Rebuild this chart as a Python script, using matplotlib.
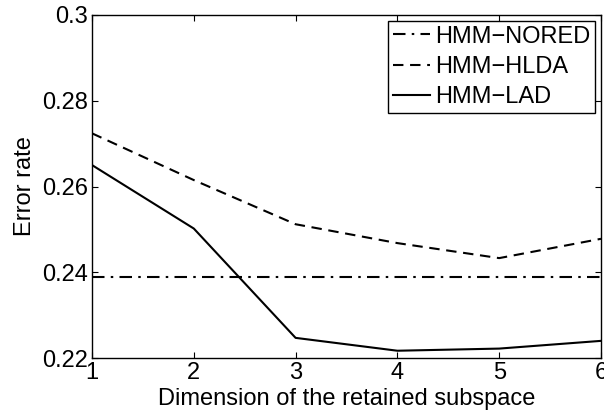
import matplotlib
matplotlib.use("Agg")
import matplotlib.pyplot as plt

plt.rcParams['font.family'] = ['Liberation Sans', 'DejaVu Sans']

dims = [1, 2, 3, 4, 5, 6]
hmm_nored = [0.2390, 0.2390, 0.2390, 0.2390, 0.2390, 0.2390]
hmm_hlda = [0.2724, 0.2615, 0.2512, 0.2468, 0.2433, 0.2478]
hmm_lad = [0.2650, 0.2502, 0.2247, 0.2217, 0.2222, 0.2240]
yticks = [0.22, 0.24, 0.26, 0.28, 0.30]
ytick_labels = ['0.22', '0.24', '0.26', '0.28', '0.3']
xticks = [1, 2, 3, 4, 5, 6]

fig = plt.figure(figsize=(6.04, 4.15), dpi=100)
ax = fig.add_axes([0.1523, 0.1373, 0.8427, 0.8266])

lw = 1.5
ax.plot(dims, hmm_nored, color='black', lw=lw, dashes=(6, 3, 1.2, 3), label='HMM\u2212NORED')
ax.plot(dims, hmm_hlda, color='black', lw=lw, dashes=(5, 3.2), label='HMM\u2212HLDA')
ax.plot(dims, hmm_lad, color='black', lw=lw, label='HMM\u2212LAD')

ax.set_xlim(1, 6)
ax.set_ylim(0.22, 0.30)
ax.set_xticks(xticks)
ax.set_xticklabels([str(x) for x in xticks])
ax.set_yticks(yticks)
ax.set_yticklabels(ytick_labels)
ax.tick_params(direction='in', length=4, width=0.8, top=True, right=True,
               labelsize=17, pad=3, colors='black')
for s in ax.spines.values():
    s.set_linewidth(1.0)

ax.set_xlabel('Dimension of the retained subspace', fontsize=17, labelpad=3)
ax.set_ylabel('Error rate', fontsize=17, labelpad=4)

leg = ax.legend(loc='upper right', fontsize=17, frameon=True, fancybox=False,
                edgecolor='black', framealpha=1, borderaxespad=0.25,
                handlelength=1.6, handletextpad=0.2, labelspacing=0.35,
                borderpad=0.2)
leg.get_frame().set_linewidth(1.0)

fig.savefig('out.png', dpi=100)
